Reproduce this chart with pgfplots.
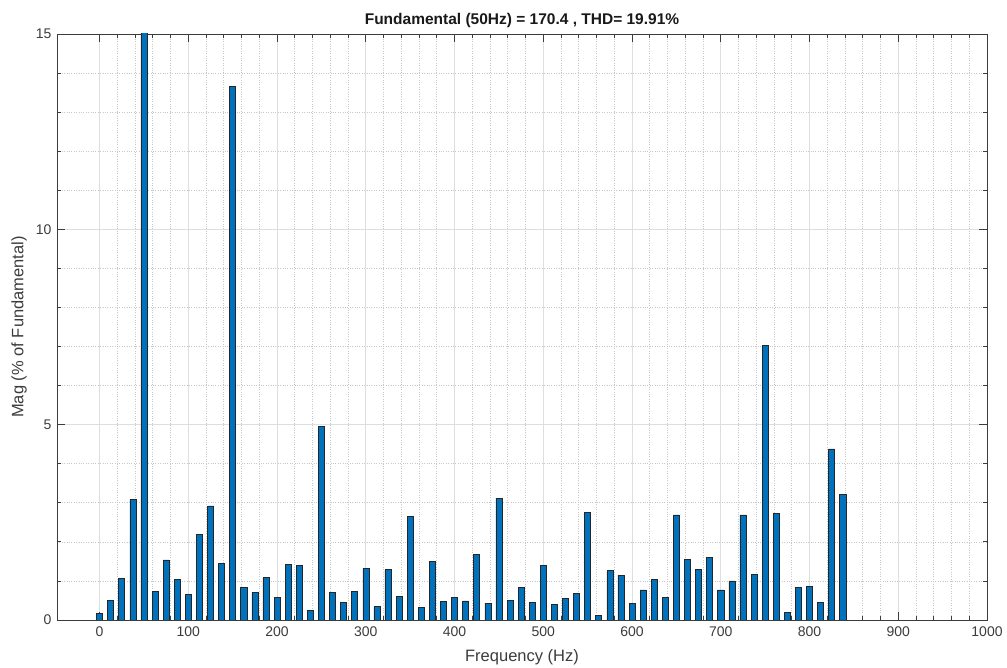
\documentclass[border=0pt]{standalone}
\usepackage{pgfplots}
\pgfplotsset{compat=1.18}
\usepackage{fontspec}
\setmainfont{Liberation Sans}
\definecolor{barblue}{RGB}{0,114,189}
\definecolor{axgray}{RGB}{60,60,60}
\definecolor{majgrid}{RGB}{222,222,222}
\definecolor{mingrid}{RGB}{200,200,200}
\begin{document}
\begin{tikzpicture}
\useasboundingbox (0,0) rectangle (1007pt,668pt);
\begin{axis}[
  at={(57pt,48pt)}, anchor=south west,
  width=930pt, height=586pt, scale only axis,
  xmin=-48, xmax=1000, ymin=0, ymax=15,
  xtick={0,100,...,1000},
  ytick={0,5,10,15},
  minor x tick num=4,
  minor y tick num=4,
  grid=both,
  major grid style={color=majgrid, line width=0.7pt},
  minor grid style={color=mingrid, dotted, line width=0.7pt},
  axis line style={color=axgray, line width=0.8pt},
  tick style={color=axgray, line width=0.8pt},
  major tick length=8pt,
  minor tick length=4pt,
  tick align=inside,
  xtick pos=both, ytick pos=both,
  /pgf/number format/assume math mode=true,
  /pgf/number format/1000 sep={},
  ticklabel style={font=\fontsize{14}{16}\selectfont, color=axgray},
  xticklabel style={yshift=-3pt},
  yticklabel style={xshift=-2pt},
  xlabel={Frequency (Hz)},
  ylabel={Mag (\% of Fundamental)},
  label style={font=\fontsize{16.5}{18}\selectfont, color=axgray},
  xlabel style={at={(axis description cs:0.5,0)}, anchor=center, yshift=-37pt},
  ylabel style={at={(axis description cs:0,0.5)}, anchor=center, yshift=38pt},
  title={Fundamental (50Hz) = 170.4 , THD= 19.91\%},
  title style={font=\bfseries\fontsize{15.5}{17}\selectfont, color=black!90, yshift=-3pt},
  clip=true,
]
\addplot[ybar, bar width=6.8, fill=barblue, draw=black!85, line width=0.6pt] table {
x y
0 0.17
12.5 0.50
25 1.06
37.5 3.09
50 100
62.5 0.74
75 1.54
87.5 1.03
100 0.66
112.5 2.20
125 2.92
137.5 1.45
150 13.66
162.5 0.83
175 0.71
187.5 1.09
200 0.57
212.5 1.43
225 1.40
237.5 0.25
250 4.96
262.5 0.71
275 0.45
287.5 0.74
300 1.32
312.5 0.34
325 1.29
337.5 0.61
350 2.66
362.5 0.32
375 1.49
387.5 0.48
400 0.58
412.5 0.49
425 1.68
437.5 0.43
450 3.12
462.5 0.51
475 0.83
487.5 0.46
500 1.40
512.5 0.40
525 0.55
537.5 0.69
550 2.75
562.5 0.11
575 1.26
587.5 1.15
600 0.43
612.5 0.77
625 1.03
637.5 0.57
650 2.69
662.5 1.55
675 1.29
687.5 1.61
700 0.77
712.5 1.00
725 2.69
737.5 1.17
750 7.03
762.5 2.72
775 0.20
787.5 0.83
800 0.85
812.5 0.45
825 4.38
837.5 3.21
};
\end{axis}
\end{tikzpicture}
\end{document}
